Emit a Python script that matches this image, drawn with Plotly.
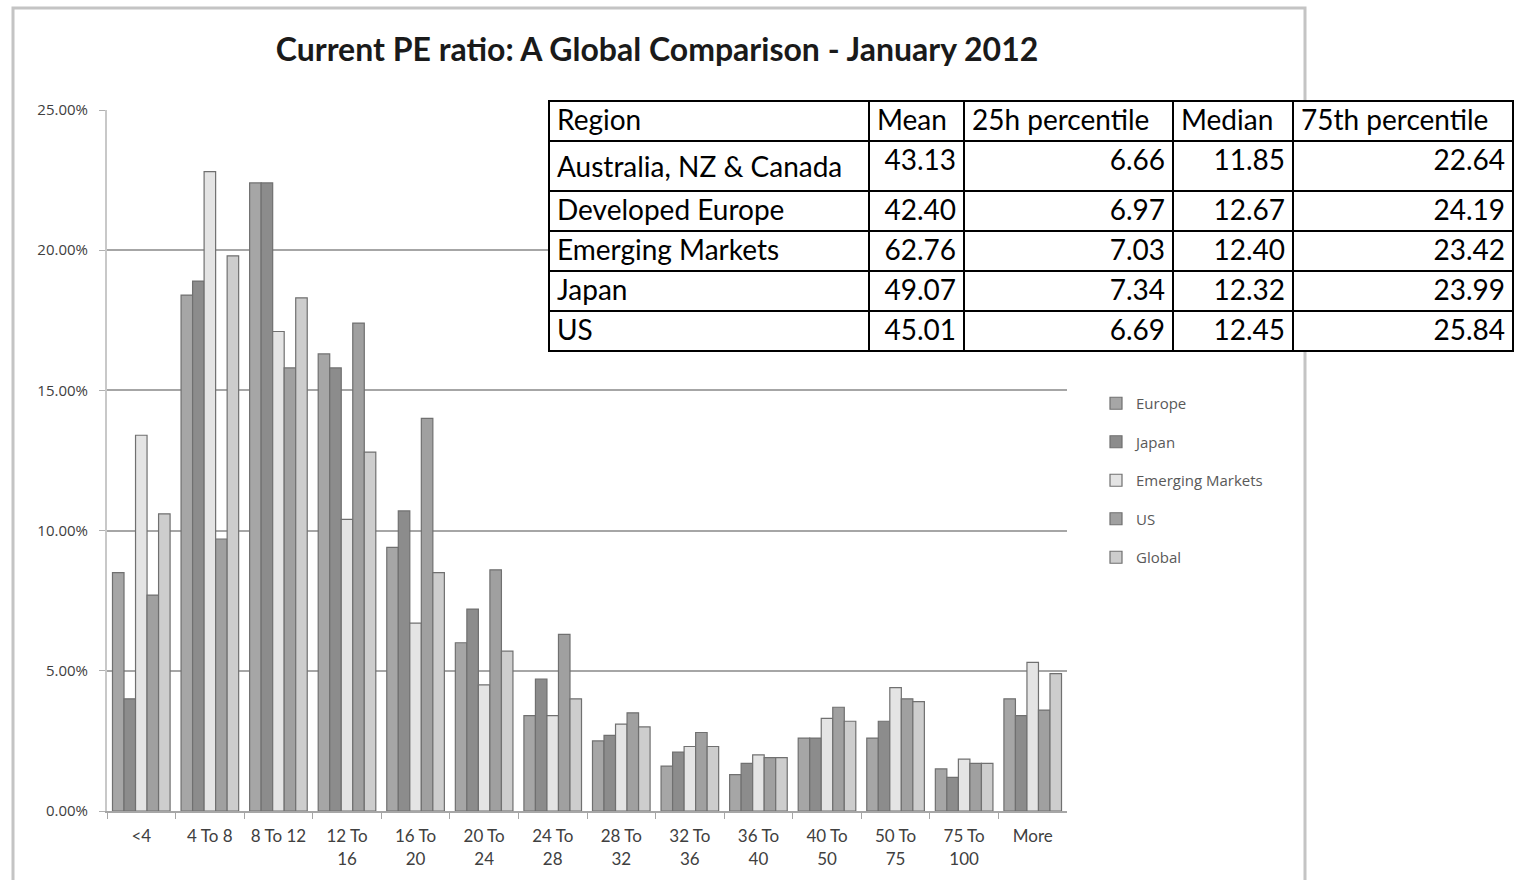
import plotly.graph_objects as go

# PE-ratio buckets (x categories)
buckets = ["<4", "4 To 8", "8 To 12", "12 To<br>16", "16 To<br>20", "20 To<br>24",
           "24 To<br>28", "28 To<br>32", "32 To<br>36", "36 To<br>40", "40 To<br>50",
           "50 To<br>75", "75 To<br>100", "More"]

# Share of firms in each bucket (%)
europe = [8.5, 18.4, 22.4, 16.3, 9.4, 6.0, 3.4, 2.5, 1.6, 1.3, 2.6, 2.6, 1.5, 4.0]
japan = [4.0, 18.9, 22.4, 15.8, 10.7, 7.2, 4.7, 2.7, 2.1, 1.7, 2.6, 3.2, 1.2, 3.4]
emerging = [13.4, 22.8, 17.1, 10.4, 6.7, 4.5, 3.4, 3.1, 2.3, 2.0, 3.3, 4.4, 1.85, 5.3]
us = [7.7, 9.7, 15.8, 17.4, 14.0, 8.6, 6.3, 3.5, 2.8, 1.9, 3.7, 4.0, 1.7, 3.6]
global_ = [10.6, 19.8, 18.3, 12.8, 8.5, 5.7, 4.0, 3.0, 2.3, 1.9, 3.2, 3.9, 1.7, 4.9]

series_names = ["Europe", "Japan", "Emerging Markets", "US", "Global"]
series_values = [europe, japan, emerging, us, global_]
series_colors = ["#a6a6a6", "#8c8c8c", "#e4e4e4", "#a0a0a0", "#cdcdcd"]

# Summary table
tbl_header = ["Region", "Mean", "25h percentile", "Median", "75th percentile"]
tbl_region = ["Australia, NZ & Canada", "Developed Europe", "Emerging Markets", "Japan", "US"]
tbl_mean = ["43.13", "42.40", "62.76", "49.07", "45.01"]
tbl_p25 = ["6.66", "6.97", "7.03", "7.34", "6.69"]
tbl_median = ["11.85", "12.67", "12.40", "12.32", "12.45"]
tbl_p75 = ["22.64", "24.19", "23.42", "23.99", "25.84"]

W, H = 1516, 880

fig = go.Figure()

for name, vals, col in zip(series_names, series_values, series_colors):
    fig.add_trace(go.Bar(
        x=buckets, y=vals, name=name, legendgroup=name,
        marker=dict(color=col, line=dict(color="#707070", width=1.2)),
    ))

# keep each region name on a single line inside its cell
region_cells = [r.replace(" ", "\u00a0") for r in tbl_region]

fig.add_trace(go.Table(
    domain=dict(x=[549 / W, 1513 / W], y=[1 - 352 / H, 1 - 101 / H]),
    columnwidth=[320, 95, 209, 120, 220],
    header=dict(
        values=tbl_header,
        align="left",
        fill_color="white",
        line=dict(color="black", width=2),
        font=dict(family="Lato", size=28, color="black"),
        height=40,
    ),
    cells=dict(
        values=[region_cells, tbl_mean, tbl_p25, tbl_median, tbl_p75],
        align=["left", "right", "right", "right", "right"],
        fill_color="white",
        line=dict(color="black", width=2),
        font=dict(family="Lato", size=28, color="black"),
        height=40,
    ),
))

# Outer chart frame (paper spans the whole page since margins are zero)
fig.add_shape(type="rect", xref="paper", yref="paper",
              x0=13 / W, x1=1305 / W, y0=-0.05, y1=1 - 8 / H,
              line=dict(color="#c4c4c4", width=3), layer="below")

fig.update_layout(
    width=W, height=H,
    margin=dict(l=0, r=0, t=0, b=0, autoexpand=False),
    paper_bgcolor="white", plot_bgcolor="white",
    barmode="group", bargap=0.16, bargroupgap=0,
    font=dict(family="Lato", color="#404040"),
    title=dict(
        text="<b>Current PE ratio: A Global Comparison - January 2012</b>",
        x=657 / W, xanchor="center", xref="paper",
        y=1 - 50 / H, yanchor="middle", yref="paper",
        font=dict(family="Lato", size=32, color="#1a1a1a"),
    ),
    showlegend=True,
    legend=dict(
        x=1096 / W, y=1 - 387 / H, xanchor="left", yanchor="top",
        font=dict(family="Open Sans", size=15, color="#595959"),
        tracegroupgap=16, itemwidth=30, bgcolor="rgba(0,0,0,0)",
    ),
    xaxis=dict(
        domain=[107 / W, 1067 / W], automargin=False,
        showgrid=False, showline=True, linecolor="#a6a6a6", linewidth=2,
        ticks="outside", tickson="boundaries", ticklen=6, tickcolor="#a6a6a6",
        ticklabelstandoff=9, tickangle=0,
        tickfont=dict(family="Lato", size=17, color="#404040"),
    ),
    yaxis=dict(
        domain=[69 / H, 1 - 110 / H], automargin=False,
        range=[0, 25], tickvals=[0, 5, 10, 15, 20, 25],
        ticktext=["0.00%", "5.00%", "10.00%", "15.00%", "20.00%", "25.00%"],
        showgrid=True, gridcolor="#a6a6a6", gridwidth=2,
        showline=True, linecolor="#c8c8c8", linewidth=2,
        ticks="outside", ticklen=6, tickcolor="#b0b0b0",
        ticklabelstandoff=8,
        tickfont=dict(family="Open Sans", size=15, color="#404040"),
        zeroline=False,
    ),
)

fig.write_html("out.html")
